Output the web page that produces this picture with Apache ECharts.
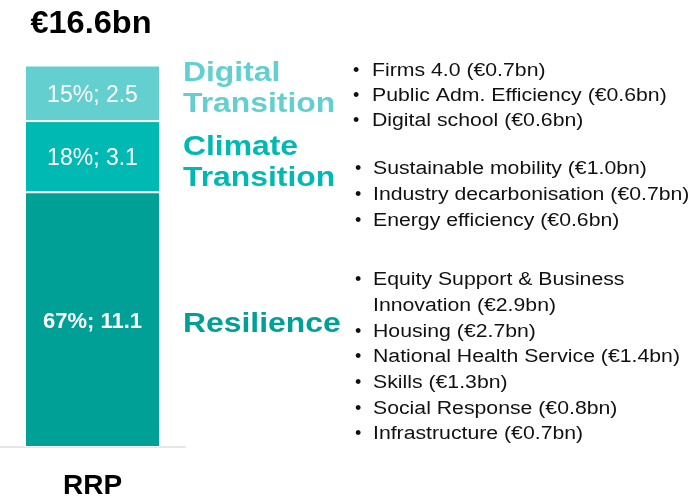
<!DOCTYPE html>
<html><head><meta charset="utf-8">
<script src="https://cdn.jsdelivr.net/npm/echarts@6/dist/echarts.min.js"></script>
<style>html,body{margin:0;padding:0;background:#fff}#c{width:697px;height:500px}</style>
</head><body><div id="c"></div>
<script>
const categories = ['RRP'];
const seriesNames = ['Resilience', 'Climate Transition', 'Digital Transition'];
const seriesValues = [11.1, 3.1, 2.5];
const seriesShares = [67, 18, 15];
const total = '€16.6bn';
const colors = ['#00A096', '#00B9B2', '#63CFCF'];
const digitalItems = ['Firms 4.0 (€0.7bn)', 'Public Adm. Efficiency (€0.6bn)', 'Digital school (€0.6bn)'];
const climateItems = ['Sustainable mobility (€1.0bn)', 'Industry decarbonisation (€0.7bn)', 'Energy efficiency (€0.6bn)'];
const resilienceItems = ['Equity Support & Business\nInnovation (€2.9bn)', 'Housing (€2.7bn)', 'National Health Service (€1.4bn)', 'Skills (€1.3bn)', 'Social Response (€0.8bn)', 'Infrastructure (€0.7bn)'];

const FONT = 'Liberation Sans, Arial, sans-serif';
const SX = 1.18;
const chart = echarts.init(document.getElementById('c'), null, {renderer: 'canvas'});

const series = seriesValues.map((v, i) => ({
  name: seriesNames[i], type: 'bar', stack: 'total', barWidth: 135,
  data: [v],
  itemStyle: {color: colors[i], borderColor: '#fff', borderWidth: 1},
  label: {
    show: true, position: 'inside', offset: [0, 2], color: '#fff', fontFamily: FONT,
    fontSize: i === 0 ? 22 : 23, fontWeight: i === 0 ? 'bold' : 'normal',
    formatter: () => seriesShares[i] + '%; ' + v
  }
}));

function txt(text, x, y, font, fill, sx, align) {
  return {type: 'text', x: x, y: y, scaleX: sx, silent: true,
    style: {text: text, font: font, fill: fill, textAlign: align || 'left', textVerticalAlign: 'middle'}};
}

function bullets(items, bx, tx, y0, lh) {
  const els = [];
  let y = y0;
  items.forEach(t => {
    els.push(txt('•', bx, y, '18px ' + FONT, '#111', 1));
    t.split('\n').forEach(l => {
      els.push(txt(l, tx, y, '18px ' + FONT, '#111', SX));
      y += lh;
    });
  });
  return els;
}

const HEAD = 'bold 27px ' + FONT;
const graphics = [
  txt(total, 91, 24, 'bold 31px ' + FONT, '#000', 1.05, 'center'),
  txt('Digital', 183, 74, HEAD, colors[2], SX),
  txt('Transition', 183, 105, HEAD, colors[2], SX),
  txt('Climate', 183, 148, HEAD, colors[1], SX),
  txt('Transition', 183, 179, HEAD, colors[1], SX),
  txt('Resilience', 183, 324.5, HEAD, colors[0], SX),
  ...bullets(digitalItems, 353, 372, 71.5, 25),
  ...bullets(climateItems, 355, 373, 169.5, 26),
  ...bullets(resilienceItems, 355, 373, 280.5, 25.67)
];

chart.setOption({
  animation: false,
  grid: {left: 0, width: 185, top: 66, bottom: 52},
  xAxis: {
    type: 'category', data: categories,
    axisLine: {show: true, lineStyle: {color: '#e6e6e6', width: 2}},
    axisTick: {show: false},
    axisLabel: {color: '#000', fontFamily: FONT, fontWeight: 'bold', fontSize: 28, margin: 25}
  },
  yAxis: {type: 'value', min: 0, max: 16.6, show: false, splitLine: {show: false}},
  series: series,
  graphic: graphics
});
</script></body></html>
